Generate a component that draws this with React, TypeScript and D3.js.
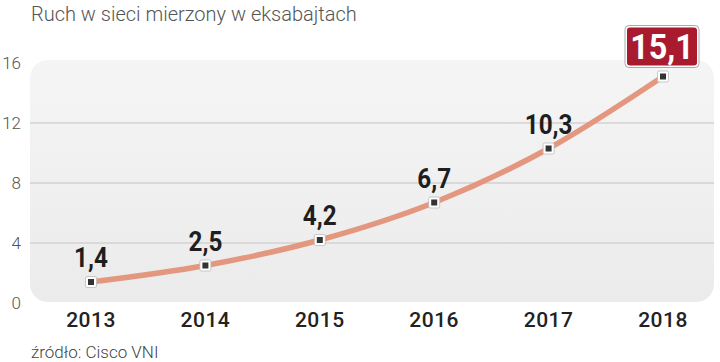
import React from 'react';
import * as d3 from 'd3';

const years = ['2013', '2014', '2015', '2016', '2017', '2018'];
const traffic = [1.4, 2.5, 4.2, 6.7, 10.3, 15.1];
const yTicks = [0, 4, 8, 12, 16];
const labels = ['1,4', '2,5', '4,2', '6,7', '10,3', '15,1'];

const W = 720;
const H = 362;
const plain = 'Roboto, "Noto Sans", sans-serif';

export default function App() {
  const x = d3.scalePoint<string>().domain(years).range([91, 663]);
  const y = d3.scaleLinear().domain([0, 16]).range([303, 63]);

  const line = d3
    .line<number>()
    .x((_, i) => x(years[i]) as number)
    .y((d) => y(d))
    .curve(d3.curveMonotoneX);

  const last = traffic.length - 1;

  return (
    <svg
      width={W}
      height={H}
      style={{ position: 'absolute', left: 0, top: 0, background: '#fff' }}
    >
      <defs>
        <linearGradient id="bg" x1="0" y1="0" x2="0" y2="1">
          <stop offset="0" stopColor="#f5f5f5" />
          <stop offset="1" stopColor="#ebebeb" />
        </linearGradient>
      </defs>

      {/* title */}
      <text x={31} y={21} fontFamily={plain} fontWeight={300} fontSize={20} fill="#555">
        Ruch w sieci mierzony w eksabajtach
      </text>

      {/* plot background */}
      <rect x={30} y={60} width={684} height={242} rx={18} fill="url(#bg)" />

      {/* grid */}
      {yTicks
        .filter((t) => t > 0 && t < 16)
        .map((t) => (
          <line
            key={t}
            x1={30}
            x2={714}
            y1={y(t)}
            y2={y(t)}
            stroke="#d2d2d2"
            strokeWidth={1.5}
          />
        ))}

      {/* y tick labels */}
      {yTicks.map((t) => (
        <text
          key={t}
          x={21}
          y={y(t) + 6}
          textAnchor="end"
          fontFamily={plain}
          fontWeight={300}
          fontSize={17}
          fill="#555"
        >
          {t}
        </text>
      ))}

      {/* line */}
      <path d={line(traffic) ?? ''} fill="none" stroke="#e4977f" strokeWidth={5.5} strokeLinecap="round" />

      {/* markers */}
      {traffic.map((v, i) => (
        <g key={i} transform={`translate(${x(years[i])},${y(v)})`}>
          <rect x={-5.5} y={-5.5} width={11} height={11} rx={1.5} fill="#fff" stroke="#bbb" strokeWidth={0.8} />
          <rect x={-3} y={-3} width={6} height={6} fill="#333" />
        </g>
      ))}

      {/* value labels */}
      {traffic.map((v, i) =>
        i === last ? null : (
          <text
            key={i}
            transform={`translate(${x(years[i])},${y(v) - 15}) scale(0.9,1)`}
            textAnchor="middle"
            fontFamily={plain}
            fontWeight={700}
            fontSize={27}
            fill="#1e1e1e"
          >
            {labels[i]}
          </text>
        )
      )}

      {/* highlighted last value */}
      <g transform={`translate(${(x(years[last]) as number) - 1},${y(traffic[last]) - 33})`}>
        <rect x={-37} y={-18} width={74} height={42} rx={4} fill="#fff" stroke="#aaa" strokeWidth={1} />
        <rect x={-35} y={-16} width={70} height={38} rx={3} fill="#a81b2f" />
        <text
          transform="translate(0,15) scale(0.9,1)"
          textAnchor="middle"
          fontFamily={plain}
          fontWeight={700}
          fontSize={36}
          fill="#fff"
        >
          {labels[last]}
        </text>
      </g>

      {/* x labels */}
      {years.map((yr) => (
        <text
          key={yr}
          x={x(yr)}
          y={327}
          textAnchor="middle"
          fontFamily={plain}
          fontWeight={500}
          fontSize={21}
          letterSpacing={0.5}
          fill="#222"
        >
          {yr}
        </text>
      ))}

      {/* source */}
      <text x={31} y={358} fontFamily={plain} fontWeight={300} fontSize={17} fill="#444">
        źródło: Cisco VNI
      </text>
    </svg>
  );
}
